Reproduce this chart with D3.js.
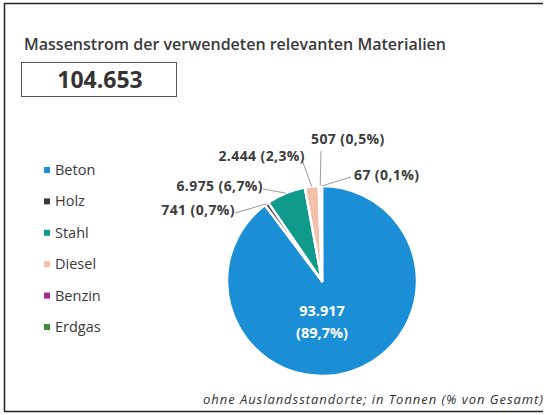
<!DOCTYPE html>
<html>
<head>
  <script src="https://d3js.org/d3.v7.min.js"></script>
  <style>
    body { margin: 0; background: #fff; }
    text { font-family: "Open Sans", sans-serif; }
  </style>
</head>
<body>
  <svg id="chart"></svg>
  <script>
    // data
    var materials = ["Beton", "Holz", "Stahl", "Diesel", "Benzin", "Erdgas"];
    var tonnes = [93917, 741, 6975, 2444, 507, 67];
    var shares = [89.7, 0.7, 6.7, 2.3, 0.5, 0.1];
    var total = 104653;
    var colors = ["#1a8fd5", "#3b3b3b", "#109a8c", "#f3c1ab", "#a52a8f", "#3f8b3f"];

    var width = 550, height = 415;
    var cx = 322, cy = 281, r = 95;

    var de = d3.formatLocale({decimal: ",", thousands: ".", grouping: [3], currency: ["", " €"]});
    var fmtInt = de.format(",d");
    var fmtPct = de.format(".1f");

    var svg = d3.select("#chart")
                .attr("width", width)
                .attr("height", height);

    // frame
    svg.append("path")
       .attr("d", "M543,3.5H4.5V411.5H543")
       .attr("fill", "none")
       .attr("stroke", "#222")
       .attr("stroke-width", 1.5);

    svg.append("text")
       .attr("x", 24).attr("y", 50)
       .attr("font-size", 16)
       .attr("font-weight", 600)
       .attr("fill", "#3a3a3a")
       .attr("textLength", 422)
       .text("Massenstrom der verwendeten relevanten Materialien");

    svg.append("rect")
       .attr("x", 21.5).attr("y", 62.5)
       .attr("width", 155).attr("height", 34)
       .attr("fill", "#fff")
       .attr("stroke", "#555")
       .attr("stroke-width", 1);

    svg.append("text")
       .attr("x", 100).attr("y", 87.5)
       .attr("text-anchor", "middle")
       .attr("font-size", 23)
       .attr("font-weight", 700)
       .attr("fill", "#333")
       .text(fmtInt(total));

    // legend
    var legendY = d3.scalePoint().domain(materials).range([170, 327]);
    var legend = svg.append("g").selectAll("g")
                    .data(materials)
                    .enter().append("g")
                    .attr("transform", function(d) { return "translate(44," + legendY(d) + ")"; });
    legend.append("rect")
          .attr("x", 0).attr("y", -3)
          .attr("width", 6).attr("height", 6)
          .attr("fill", function(d, i) { return colors[i]; });
    legend.append("text")
          .attr("x", 11).attr("y", 5)
          .attr("font-size", 14.5)
          .attr("fill", "#3a3a3a")
          .text(function(d) { return d; });

    // pie
    var rows = materials.map(function(m, i) {
      return {name: m, value: tonnes[i], share: shares[i], color: colors[i]};
    });
    var pie = d3.pie().sort(null).value(function(d) { return d.value; });
    var arcs = pie(rows);
    var arc = d3.arc().innerRadius(0).outerRadius(r);
    var edge = d3.arc().innerRadius(r).outerRadius(r);

    var g = svg.append("g").attr("transform", "translate(" + cx + "," + cy + ")");
    g.selectAll("path")
     .data(arcs)
     .enter().append("path")
     .attr("d", arc)
     .attr("fill", function(d) { return d.data.color; })
     .attr("stroke", "#fff")
     .attr("stroke-width", 2.5)
     .attr("stroke-linejoin", "round");

    // inside label for the big slice
    var big = g.append("text")
               .attr("text-anchor", "middle")
               .attr("font-size", 14.5)
               .attr("font-weight", 700)
               .attr("fill", "#fff");
    big.append("tspan").attr("x", 0).attr("y", 35).text(fmtInt(tonnes[0]));
    big.append("tspan").attr("x", 0).attr("y", 57).text("(" + fmtPct(shares[0]) + "%)");

    // outside labels: anchor point relative to pie centre, text side
    var labelPos = {
      "Holz":   {x: -87, y: -66, anchor: "end"},
      "Stahl":  {x: -59, y: -90, anchor: "end"},
      "Diesel": {x: -17, y: -120, anchor: "end"},
      "Benzin": {x: -11, y: -137, anchor: "start"},
      "Erdgas": {x: 32, y: -101, anchor: "start"}
    };
    var lineEnd = {
      "Holz":   [-87, -68],
      "Stahl":  [-59, -92],
      "Diesel": [-20, -121],
      "Benzin": [-1, -130],
      "Erdgas": [29, -104]
    };

    var outer = arcs.filter(function(d) { return labelPos[d.data.name]; });
    g.selectAll("polyline")
     .data(outer)
     .enter().append("polyline")
     .attr("points", function(d) {
       var p = edge.centroid(d);
       var e = lineEnd[d.data.name];
       return [e, p].map(function(q) { return q.join(","); }).join(" ");
     })
     .attr("fill", "none")
     .attr("stroke", "#9a9a9a")
     .attr("stroke-width", 1);

    g.selectAll("text.lbl")
     .data(outer)
     .enter().append("text")
     .attr("class", "lbl")
     .attr("x", function(d) { return labelPos[d.data.name].x; })
     .attr("y", function(d) { return labelPos[d.data.name].y; })
     .attr("text-anchor", function(d) { return labelPos[d.data.name].anchor; })
     .attr("font-size", 14)
     .attr("font-weight", 700)
     .attr("letter-spacing", 0.4)
     .attr("fill", "#3d3d3d")
     .text(function(d) { return fmtInt(d.data.value) + " (" + fmtPct(d.data.share) + "%)"; });

    svg.append("text")
       .attr("x", 543).attr("y", 404)
       .attr("text-anchor", "end")
       .attr("font-size", 13)
       .attr("font-style", "italic")
       .attr("fill", "#333")
       .attr("textLength", 340)
       .text("ohne Auslandsstandorte; in Tonnen (% von Gesamt)");
  </script>
</body>
</html>
